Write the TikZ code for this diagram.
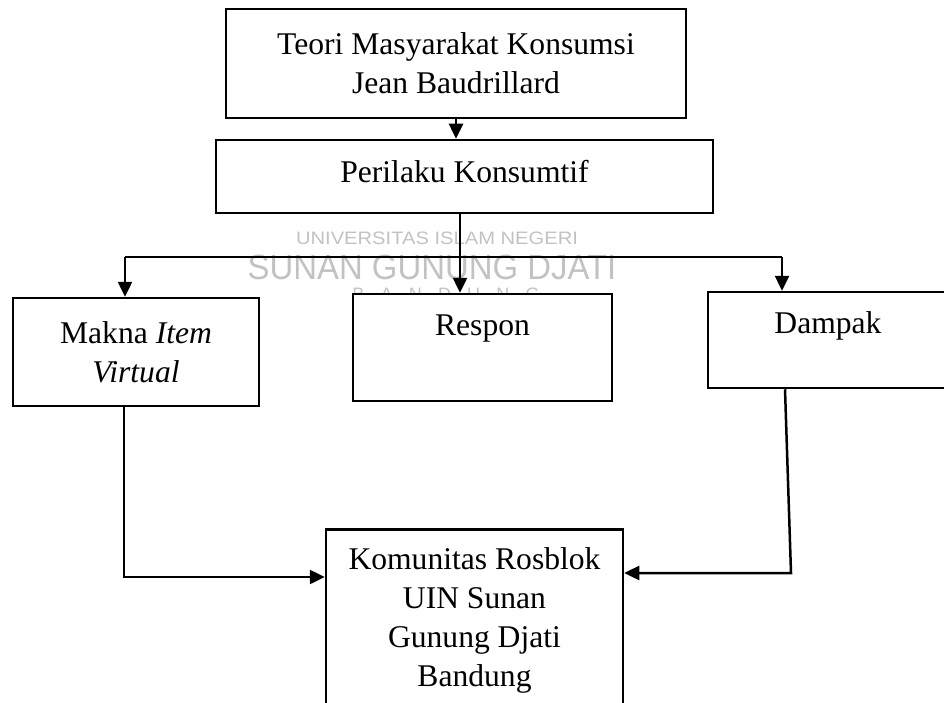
\documentclass[tikz,border=0pt]{standalone}
\usepackage{fontspec}
\setmainfont{Liberation Serif}
\newfontfamily\tandafont{Liberation Sans}
\usetikzlibrary{arrows.meta}

\tikzset{
  kotak/.style={draw, fill=white, line width=2.5pt, inner sep=0pt, align=center,
    font=\fontsize{31.6}{39}\selectfont},
  garis/.style={line width=2.5pt},
  panah/.style={garis, ->, >={Triangle[length=15pt,width=14pt]}},
  tanda/.style={text=black!24, inner sep=0pt},
}

\begin{document}
\begin{tikzpicture}[x=1pt, y=-1pt]

    % batas gambar
    \path[use as bounding box, clip] (0,0) rectangle (944,703);

    % tanda air
    \node[tanda, font=\tandafont\fontsize{18}{18}\selectfont, xscale=1.12] (wm1) at (437,238) {UNIVERSITAS ISLAM NEGERI};
    \node[tanda, font=\tandafont\fontsize{35}{35}\selectfont, xscale=0.94] (wm2) at (432,267) {SUNAN GUNUNG DJATI};
    \node[tanda, font=\tandafont\fontsize{18}{18}\selectfont\addfontfeature{LetterSpace=90}] (wm3) at (446,294) {BANDUNG};

    % kotak atas
    \node[kotak, minimum width=460pt, minimum height=109pt] (teori) at (456,63.5)
        {Teori Masyarakat Konsumsi\\Jean Baudrillard};
    \node[kotak, minimum width=497pt, text height=43pt, text depth=30pt] (perilaku) at (464.5,176.5)
        {Perilaku Konsumtif};

    % kotak tengah
    \node[kotak, minimum width=246pt, minimum height=108pt] (makna) at (136,352)
        {Makna \textit{Item}\\\textit{Virtual}};
    \node[kotak, minimum width=259pt, text height=41pt, text depth=66pt] (respon) at (482.5,347.5)
        {Respon};
    \node[kotak, minimum width=240pt, text height=41pt, text depth=55pt] (dampak) at (828,340)
        {Dampak};

    % kotak bawah
    \node[kotak, minimum width=297pt, inner ysep=18.6pt, anchor=north] (komunitas) at (474.5,528)
        {Komunitas Rosblok\\UIN Sunan\\Gunung Djati\\Bandung};

    % percabangan
    \coordinate (cabang) at (460,257);
    \coordinate (kiri) at (125,257);
    \coordinate (kanan) at (782,257);

    \draw[panah] (teori.south) -- (teori.south |- perilaku.north);
    \draw[garis] (perilaku.south -| cabang) -- (cabang);
    \draw[garis] (kiri) -- (kanan);
    \draw[panah] (kiri) -- (kiri |- makna.north);
    \draw[panah] (cabang) -- (cabang |- respon.north);
    \draw[panah] (kanan) -- (kanan |- dampak.north);

    % menuju komunitas
    \coordinate (bawahkiri) at (124,577);
    \coordinate (bawahkanan) at (791,573);
    \draw[panah] (bawahkiri |- makna.south) -- (bawahkiri) -- (bawahkiri -| komunitas.west);
    \draw[panah] ([xshift=-43pt]dampak.south) -- (bawahkanan) -- (bawahkanan -| komunitas.east);

\end{tikzpicture}
\end{document}
